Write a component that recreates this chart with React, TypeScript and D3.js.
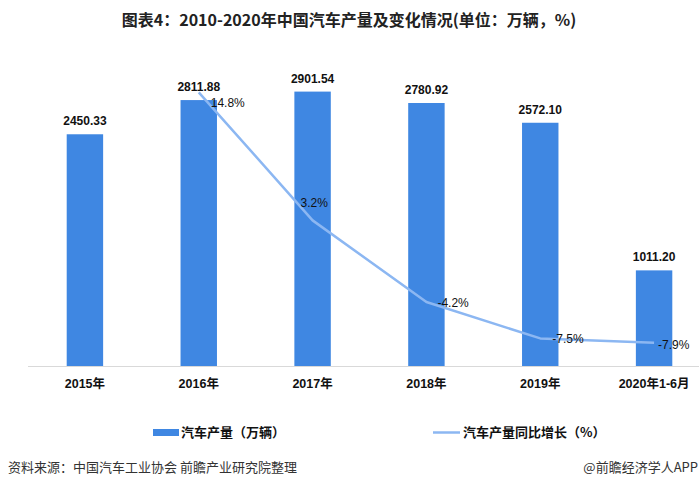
import React, { useEffect, useRef } from "react";
import * as d3 from "d3";

const categories = ["2015年", "2016年", "2017年", "2018年", "2019年", "2020年1-6月"];
const production = [2450.33, 2811.88, 2901.54, 2780.92, 2572.1, 1011.2];
const growthCategories = ["2016年", "2017年", "2018年", "2019年", "2020年1-6月"];
const growth = [14.8, 3.2, -4.2, -7.5, -7.9];
const titleText = "图表4：2010-2020年中国汽车产量及变化情况(单位：万辆，%)";
const legendBar = "汽车产量（万辆）";
const legendLine = "汽车产量同比增长（%）";
const sourceText = "资料来源：中国汽车工业协会 前瞻产业研究院整理";
const creditText = "@前瞻经济学人APP";

const W = 699;
const H = 489;
const BAR_COLOR = "#3f87e2";
const LINE_COLOR = "#8cb7f2";
const FONT = "'Liberation Sans', Arial, 'Noto Sans CJK SC', sans-serif";
const CJK = "'Noto Sans CJK SC', 'Liberation Sans', sans-serif";

// label offsets for percent labels (dx, dy relative to point)
const pctOffsets: [number, number][] = [
  [12, 11],
  [-12, -17],
  [11, 1],
  [12, 1],
  [4, 2],
];

export default function App() {
  const ref = useRef<SVGSVGElement | null>(null);

  useEffect(() => {
    const svg = d3.select(ref.current);
    svg.selectAll("*").remove();

    const x = d3.scaleBand<string>().domain(categories).range([28, 711]).paddingInner(0.68).paddingOuter(0.34);
    const y = d3.scaleLinear().domain([0, 3500]).range([366, 35]);
    const y2 = d3.scaleLinear().domain([-10, 20]).range([366, 35]);

    svg.append("rect").attr("width", W).attr("height", H).attr("fill", "#fff");

    // title
    svg.append("text").attr("x", 349).attr("y", 26).attr("text-anchor", "middle")
      .attr("font-family", CJK).attr("font-weight", 700).attr("font-size", 16)
      .attr("fill", "#222").text(titleText);

    // bars
    svg.append("g").selectAll("rect").data(production).join("rect")
      .attr("x", (_, i) => x(categories[i])!)
      .attr("y", (d) => y(d))
      .attr("width", x.bandwidth())
      .attr("height", (d) => y(0) - y(d))
      .attr("fill", BAR_COLOR);

    // axis line
    svg.append("line").attr("x1", 28).attr("x2", W).attr("y1", 366.5).attr("y2", 366.5)
      .attr("stroke", "#d9d9d9").attr("stroke-width", 1);

    // category labels
    svg.append("g").selectAll("text").data(categories).join("text")
      .attr("x", (d) => x(d)! + x.bandwidth() / 2)
      .attr("y", 388)
      .attr("text-anchor", "middle")
      .attr("font-family", FONT).attr("font-weight", 700).attr("font-size", 12.5)
      .attr("fill", "#111").text((d) => d);

    // value labels
    svg.append("g").selectAll("text").data(production).join("text")
      .attr("x", (_, i) => x(categories[i])! + x.bandwidth() / 2)
      .attr("y", (d) => y(d) - 9)
      .attr("text-anchor", "middle")
      .attr("font-family", FONT).attr("font-weight", 700).attr("font-size", 12)
      .attr("fill", "#111").text((d) => d.toFixed(2));

    // line
    const cx = (c: string) => x(c)! + x.bandwidth() / 2;
    const line = d3.line<number>()
      .x((_, i) => cx(growthCategories[i]))
      .y((d) => y2(d));
    svg.append("path").datum(growth).attr("d", line).attr("fill", "none")
      .attr("stroke", LINE_COLOR).attr("stroke-width", 2.5).attr("stroke-linejoin", "round");

    svg.append("g").selectAll("text").data(growth).join("text")
      .attr("x", (_, i) => cx(growthCategories[i]) + pctOffsets[i][0])
      .attr("y", (d, i) => y2(d) + pctOffsets[i][1] + 4)
      .attr("font-family", FONT).attr("font-size", 12)
      .attr("fill", "#111").text((d) => `${d.toFixed(1)}%`);

    // legend
    svg.append("rect").attr("x", 153).attr("y", 429).attr("width", 26).attr("height", 7).attr("fill", BAR_COLOR);
    svg.append("text").attr("x", 181).attr("y", 437)
      .attr("font-family", CJK).attr("font-weight", 700).attr("font-size", 13)
      .attr("fill", "#111").text(legendBar);
    svg.append("line").attr("x1", 433).attr("x2", 460).attr("y1", 432.5).attr("y2", 432.5)
      .attr("stroke", LINE_COLOR).attr("stroke-width", 2.5);
    svg.append("text").attr("x", 463).attr("y", 437)
      .attr("font-family", CJK).attr("font-weight", 700).attr("font-size", 13)
      .attr("fill", "#111").text(legendLine);

    // source
    svg.append("text").attr("x", 8).attr("y", 472)
      .attr("font-family", CJK).attr("font-size", 13).attr("fill", "#333").text(sourceText);
    svg.append("text").attr("x", 698).attr("y", 472).attr("text-anchor", "end")
      .attr("font-family", CJK).attr("font-size", 13).attr("fill", "#333").text(creditText);
  }, []);

  return (
    <svg ref={ref} width={W} height={H}
      style={{ position: "absolute", left: 0, top: 0, display: "block" }} />
  );
}
